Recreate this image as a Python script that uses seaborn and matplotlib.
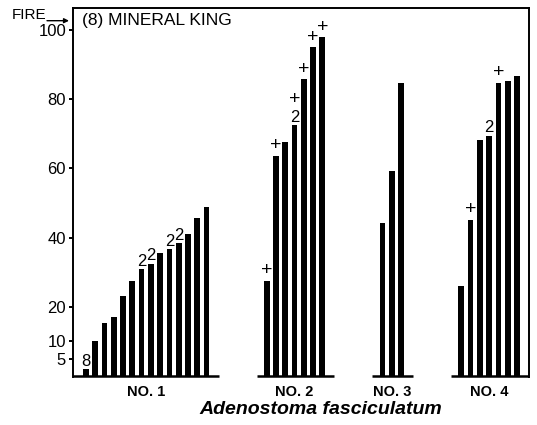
import matplotlib
matplotlib.use("Agg")
import matplotlib.pyplot as plt
import pandas as pd
import seaborn as sns

# ---- data -------------------------------------------------------------
site_title = "(8) MINERAL KING"
species = "Adenostoma fasciculatum"
plot_names = ["NO. 1", "NO. 2", "NO. 3", "NO. 4"]

plot1_values = [1.9, 10.1, 15.2, 17.0, 23.1, 27.5, 30.8, 32.4, 35.5, 36.6, 38.4, 41.0, 45.6, 48.8]
plot2_values = [27.5, 63.6, 67.6, 72.5, 85.8, 95.0, 97.9]
plot3_values = [44.1, 59.2, 84.6]
plot4_values = [26.0, 45.1, 68.2, 69.4, 84.8, 85.3, 86.8]

# symbols printed above individual bars (stacked bottom-up)
plot1_marks = ["8", "", "", "", "", "", "2", "2", "", "2", "2", "", "", ""]
plot2_marks = ["+", "+", "", "2+", "+", "+", "+"]
plot3_marks = ["", "", ""]
plot4_marks = ["", "+", "", "2", "+", "", ""]

y_ticks = [5, 10, 20, 40, 60, 80, 100]
fire_label = "FIRE"

# ---- layout -----------------------------------------------------------
group_starts = [0, 19.5, 32, 40.5]
x_min, x_max = -1.4, 47.8
y_min, y_max = -0.29, 106.4

values = [plot1_values, plot2_values, plot3_values, plot4_values]
marks = [plot1_marks, plot2_marks, plot3_marks, plot4_marks]

rows = []
for name, start, vals, mk in zip(plot_names, group_starts, values, marks):
    for i, (v, m) in enumerate(zip(vals, mk)):
        rows.append({"plot": name, "pos": start + i, "value": v, "mark": m})
df = pd.DataFrame(rows)

sns.set_theme(style="ticks")
plt.rcParams["font.family"] = ["Liberation Sans", "DejaVu Sans"]
plt.rcParams.update({"text.color": "black", "axes.labelcolor": "black",
                     "xtick.color": "black", "ytick.color": "black",
                     "axes.edgecolor": "black"})

W, H = 537, 425
fig = plt.figure(figsize=(W / 100, H / 100), dpi=100)
ax = fig.add_axes([73 / W, 1 - 377 / H, (529 - 73) / W, (377 - 8) / H])

sns.barplot(data=df, x="pos", y="value", native_scale=True, color="black",
            saturation=1, width=0.62, linewidth=0, ax=ax)

ax.set_xlim(x_min, x_max)
ax.set_ylim(y_min, y_max)
ax.set_xlabel("")
ax.set_ylabel("")
ax.set_xticks([])
ax.set_yticks(y_ticks)
ax.set_yticklabels([str(t) for t in y_ticks], fontsize=12, color="black")
ax.tick_params(axis="y", direction="out", length=3, width=1.4, pad=2, color="black")

for side in ("left", "top", "right"):
    ax.spines[side].set_visible(True)
    ax.spines[side].set_linewidth(1.4)
    ax.spines[side].set_color("black")
ax.spines["bottom"].set_visible(False)

# baseline under each group of bars
for gi, (start, vals) in enumerate(zip(group_starts, values)):
    last = start + len(vals) - 1
    left = x_min if gi == 0 else start - 1.1
    right = x_max if gi == len(values) - 1 else last + 1.3
    ax.hlines(0, left, right, color="black", lw=1.8, clip_on=False)
    ax.annotate(plot_names[gi], xy=((start + last) / 2, 0), xytext=(0, -6.5),
                textcoords="offset points", ha="center", va="top",
                fontsize=10.5, fontweight="bold", color="black",
                annotation_clip=False)

# symbols above bars
for _, r in df.iterrows():
    offset = 0.0
    for ch in r["mark"]:
        if ch == "+":
            offset += 1.5
            size = 14
        else:
            size = 12
        ax.annotate(ch, xy=(r["pos"], r["value"]), xytext=(0, 2.5 + offset),
                    textcoords="offset points", ha="center", va="baseline",
                    fontsize=size, color="black")
        offset += 11.5

ax.text(82 / W, 1 - 13 / H, site_title, transform=fig.transFigure,
        ha="left", va="top", fontsize=12.5, color="black")

fig.text(12 / W, 1 - 15 / H, fire_label, ha="left", va="center",
         fontsize=11, color="black")
ax.annotate("", xy=(69, H - 20.7), xycoords="figure pixels",
            xytext=(47, H - 20.7), textcoords="figure pixels",
            arrowprops=dict(arrowstyle="-|>", color="black", lw=1.0,
                            mutation_scale=7, shrinkA=0, shrinkB=0))

fig.text(321 / W, 1 - 410 / H, species, ha="center", va="center",
         fontsize=14, fontweight="bold", fontstyle="italic", color="black")

fig.savefig("out.png", dpi=100, facecolor="white")
